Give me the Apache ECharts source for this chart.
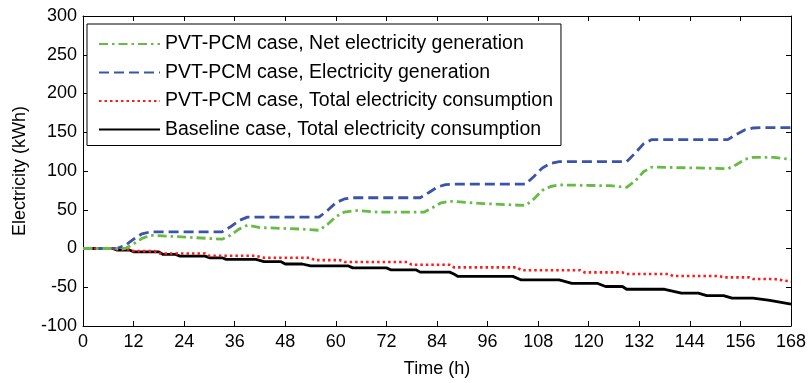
<!DOCTYPE html>
<html><head><meta charset="utf-8">
<script src="https://cdn.jsdelivr.net/npm/echarts@6/dist/echarts.min.js"></script>
<style>html,body{margin:0;padding:0;background:#fff}#c{width:812px;height:383px}</style>
</head><body><div id="c"></div>
<script>
const seriesNames = [
  'PVT-PCM case, Net electricity generation',
  'PVT-PCM case, Electricity generation',
  'PVT-PCM case, Total electricity consumption',
  'Baseline case, Total electricity consumption'
];
const xTicks = [0, 168, 12];   // min, max, interval (h)
const yTicks = [-100, 300, 50]; // min, max, interval (kWh)

const netHours = [0, 10, 12, 14, 16, 20, 33, 35, 37, 39, 42, 52, 56, 58, 60, 62, 65, 70, 81, 83, 85, 87, 95, 105, 107, 109, 111, 113, 125, 129, 131, 133, 135, 145, 153, 155, 157, 159, 164, 168];
const netValues = [0, 0, 6, 13, 17, 16, 12, 17, 25, 30, 27, 25, 23.5, 31, 41, 47, 49, 47, 47, 53, 59, 61, 58, 55.5, 64, 75, 80, 82, 81, 79, 87, 99, 105, 104, 103, 108, 115, 117.5, 117.5, 115];

const genHours = [0, 8, 10, 12, 14, 16, 33, 35, 37, 39, 56, 58, 60, 62, 64, 80, 82, 84, 86, 88, 105, 107, 109, 111, 113, 129, 131, 133, 135, 153, 155, 157, 159, 161, 168];
const genValues = [0, 0, 4, 12, 19, 21.5, 21.5, 28, 36, 40.5, 40.5, 49, 59, 64, 65.5, 65.5, 72, 79, 82.5, 83, 83, 93, 104, 110, 112, 112, 123, 135, 140.5, 140.5, 147, 153, 155.5, 156, 156];

const pcmHours = [0, 7, 8, 11, 12, 17, 18, 29, 30, 41, 43, 54, 55, 61, 62, 77, 78, 87, 88, 103, 104, 118, 119, 128, 129, 139, 140, 151, 152, 158, 159, 164, 168];
const pcmValues = [0, 0, -1.3, -1.3, -3.4, -3.4, -6.4, -6.4, -9.4, -9.4, -12, -12, -15, -15, -17.5, -17.5, -21, -21, -24.4, -24.4, -28, -28, -30.8, -30.8, -32.9, -32.9, -35.5, -35.5, -37.2, -37.2, -39.3, -39.3, -42.7];

const baseHours = [0, 7, 8, 11, 12, 18, 19, 22, 23, 29, 30, 33, 34, 41, 43, 47, 48, 52, 54, 63, 64, 72, 73, 79, 80, 87, 88, 89, 102, 104, 113, 116, 122, 124, 128, 129, 138, 142, 146, 148, 152, 154, 159, 163, 168];
const baseValues = [0, 0, -2, -2, -4.3, -4.3, -7.7, -7.7, -9.8, -9.8, -12, -12, -14, -14, -17, -17, -20, -20, -22.5, -22.5, -25, -25, -27.5, -27.5, -30.5, -30.5, -33, -36, -36, -40.6, -40.6, -44.9, -44.9, -49, -49, -52.6, -52.6, -57.7, -57.7, -60.7, -60.7, -64.1, -64.1, -67, -71.8];

const zip = (h, v) => h.map((t, i) => [t, v[i]]);
const FONT = 'Liberation Sans, Arial, sans-serif';

const chart = echarts.init(document.getElementById('c'), null, {renderer: 'canvas'});
const axisCommon = {
  axisLine: {show: true, onZero: false, lineStyle: {color: '#000', width: 1}},
  axisTick: {show: true, inside: true, length: 5, lineStyle: {color: '#000'}},
  splitLine: {show: false}
};
chart.setOption({
  animation: false,
  backgroundColor: '#fff',
  textStyle: {fontFamily: FONT},
  grid: {left: 83, right: 21, top: 16, bottom: 55, containLabel: false},
  legend: {
    orient: 'vertical', left: 87, top: 24,
    data: seriesNames,
    backgroundColor: '#fff', borderColor: '#000', borderWidth: 1,
    padding: [10, 8, 6, 11], itemGap: 8.5, itemWidth: 61, itemHeight: 14,
    itemStyle: {opacity: 0},
    textStyle: {fontFamily: FONT, fontSize: 19.5, color: '#000'}
  },
  xAxis: [
    Object.assign({type: 'value', min: xTicks[0], max: xTicks[1], interval: xTicks[2], position: 'bottom',
      name: 'Time (h)', nameLocation: 'middle', nameGap: 34,
      nameTextStyle: {fontFamily: FONT, fontSize: 18, color: '#000'},
      axisLabel: {fontFamily: FONT, fontSize: 18, color: '#000', margin: 7}}, axisCommon),
    Object.assign({type: 'value', min: xTicks[0], max: xTicks[1], interval: xTicks[2], position: 'top',
      axisLabel: {show: false}}, axisCommon)
  ],
  yAxis: [
    Object.assign({type: 'value', min: yTicks[0], max: yTicks[1], interval: yTicks[2], position: 'left',
      name: 'Electricity (kWh)', nameLocation: 'middle', nameGap: 54,
      nameTextStyle: {fontFamily: FONT, fontSize: 18, color: '#000'},
      axisLabel: {fontFamily: FONT, fontSize: 18, color: '#000', margin: 6}}, axisCommon),
    Object.assign({type: 'value', min: yTicks[0], max: yTicks[1], interval: yTicks[2], position: 'right',
      axisLabel: {show: false}}, axisCommon)
  ],
  series: [
    {name: seriesNames[3], type: 'line', data: zip(baseHours, baseValues), symbol: 'none', z: 2,
      lineStyle: {color: '#000', width: 2.8, type: 'solid'}, itemStyle: {color: '#000'}},
    {name: seriesNames[2], type: 'line', data: zip(pcmHours, pcmValues), symbol: 'none', z: 3,
      lineStyle: {color: '#ff1a1a', width: 2.6, type: [2.5, 3]}, itemStyle: {color: '#ff1a1a'}},
    {name: seriesNames[1], type: 'line', data: zip(genHours, genValues), symbol: 'none', z: 4,
      lineStyle: {color: '#3a55a8', width: 2.8, type: [10, 5]}, itemStyle: {color: '#3a55a8'}},
    {name: seriesNames[0], type: 'line', data: zip(netHours, netValues), symbol: 'none', z: 5,
      lineStyle: {color: '#66bb44', width: 2.8, type: [9, 4, 2.5, 4]}, itemStyle: {color: '#66bb44'}}
  ]
});
</script></body></html>
